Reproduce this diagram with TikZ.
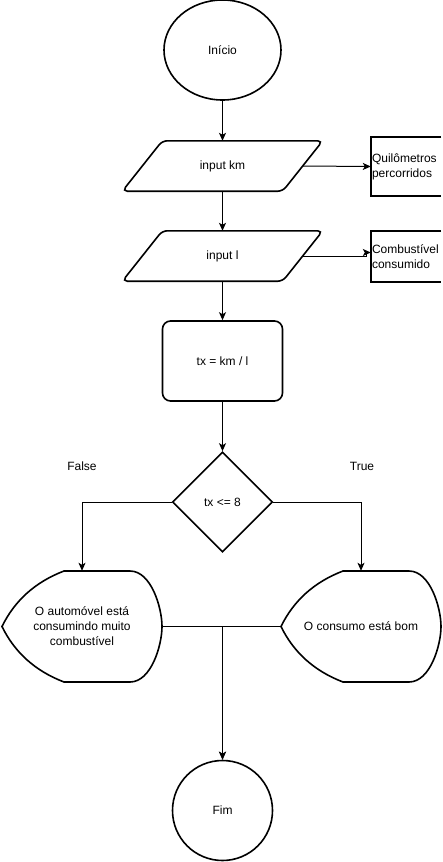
\documentclass[tikz,border=0pt]{standalone}
\usepackage{fontspec}
\setmainfont{Liberation Sans}
\usetikzlibrary{shapes.geometric,arrows.meta,calc}
\newcommand\displayshape[1]{%
  \draw[shp] ($(#1)+(-80,0)$) .. controls ($(#1)+(-67.3,-26)$) and ($(#1)+(-46.7,-44.5)$) .. ($(#1)+(-18,-55.5)$)
    -- ($(#1)+(48,-55.5)$) .. controls ($(#1)+(69.3,-55.5)$) and ($(#1)+(80,-18.5)$) .. ($(#1)+(80,0)$)
    .. controls ($(#1)+(80,18.5)$) and ($(#1)+(69.3,55.5)$) .. ($(#1)+(48,55.5)$)
    -- ($(#1)+(-18,55.5)$) .. controls ($(#1)+(-46.7,44.5)$) and ($(#1)+(-67.3,26)$) .. cycle;}
\begin{document}
\begin{tikzpicture}[x=1pt,y=-1pt,
  every node/.style={font=\fontsize{12}{15}\selectfont, text=black},
  shp/.style={draw=black, line width=1.6pt},
  conn/.style={draw=black, line width=1pt, -{Stealth[length=8pt,width=7pt,inset=2pt]}},
  bare/.style={rectangle, inner sep=0pt}]
\useasboundingbox (0,0) rectangle (442,862);
% nodes
\node[shp, ellipse, minimum width=117, minimum height=100, inner sep=0pt] (start) at (222.5,50) {Início};
\node[bare, minimum width=200, minimum height=50] (inkm) at (222.5,166) {input km};
\draw[shp, rounded corners=5pt] ($(inkm.north west)+(40,0)$) -- (inkm.north east) -- ($(inkm.south east)+(-40,0)$) -- (inkm.south west) -- cycle;
\node[bare, minimum width=200, minimum height=50] (inl) at (222.5,256) {input l};
\draw[shp, rounded corners=5pt] ($(inl.north west)+(40,0)$) -- (inl.north east) -- ($(inl.south east)+(-40,0)$) -- (inl.south west) -- cycle;
\node[shp, rectangle, rounded corners=8pt, minimum width=120, minimum height=80] (calc) at (222.5,361) {tx = km / l};
\node[shp, diamond, minimum width=100, minimum height=100, inner sep=0pt] (dec) at (222.5,502) {tx <= 8};
\node[bare, minimum width=160, minimum height=111, align=center] (disl) at (82,626.5) {O automóvel está\\consumindo muito\\combustível};
\displayshape{disl}
\node[bare, minimum width=160, minimum height=111, align=center] (disr) at (361,626.5) {O consumo está bom};
\displayshape{disr}
\node[shp, circle, minimum size=100, inner sep=0pt] (end) at (222.5,810.5) {Fim};
\node[bare, minimum width=70, minimum height=59, text width=68, align=left] (ann1) at (406,166.5) {Quilômetros\\percorridos};
\draw[shp] (ann1.north east) -- (ann1.north west) -- (ann1.south west) -- (ann1.south east);
\node[bare, minimum width=70, minimum height=51, text width=68, align=left] (ann2) at (406,256.5) {Combustível\\consumido};
\draw[shp] (ann2.north east) -- (ann2.north west) -- (ann2.south west) -- (ann2.south east);
\node (lf) at (82,466) {False};
\node (lt) at (362,466) {True};
% connectors
\draw[conn] (start) -- (inkm);
\draw[conn] (inkm) -- (inl);
\draw[conn] (inl) -- (calc);
\draw[conn] (calc) -- (dec);
\draw[conn] (dec.west) -| (disl.north);
\draw[conn] (dec.east) -| (disr.north);
\draw[conn] (disl.east) -| (end.north);
\draw[conn] (disr.west) -| (end.north);
\draw[conn] ([xshift=-20pt]inkm.east) -- (ann1.west);
\draw[conn] ([xshift=-20pt]inl.east) -- ++(64,0) |- ([yshift=4pt]ann2.west);
\end{tikzpicture}
\end{document}
